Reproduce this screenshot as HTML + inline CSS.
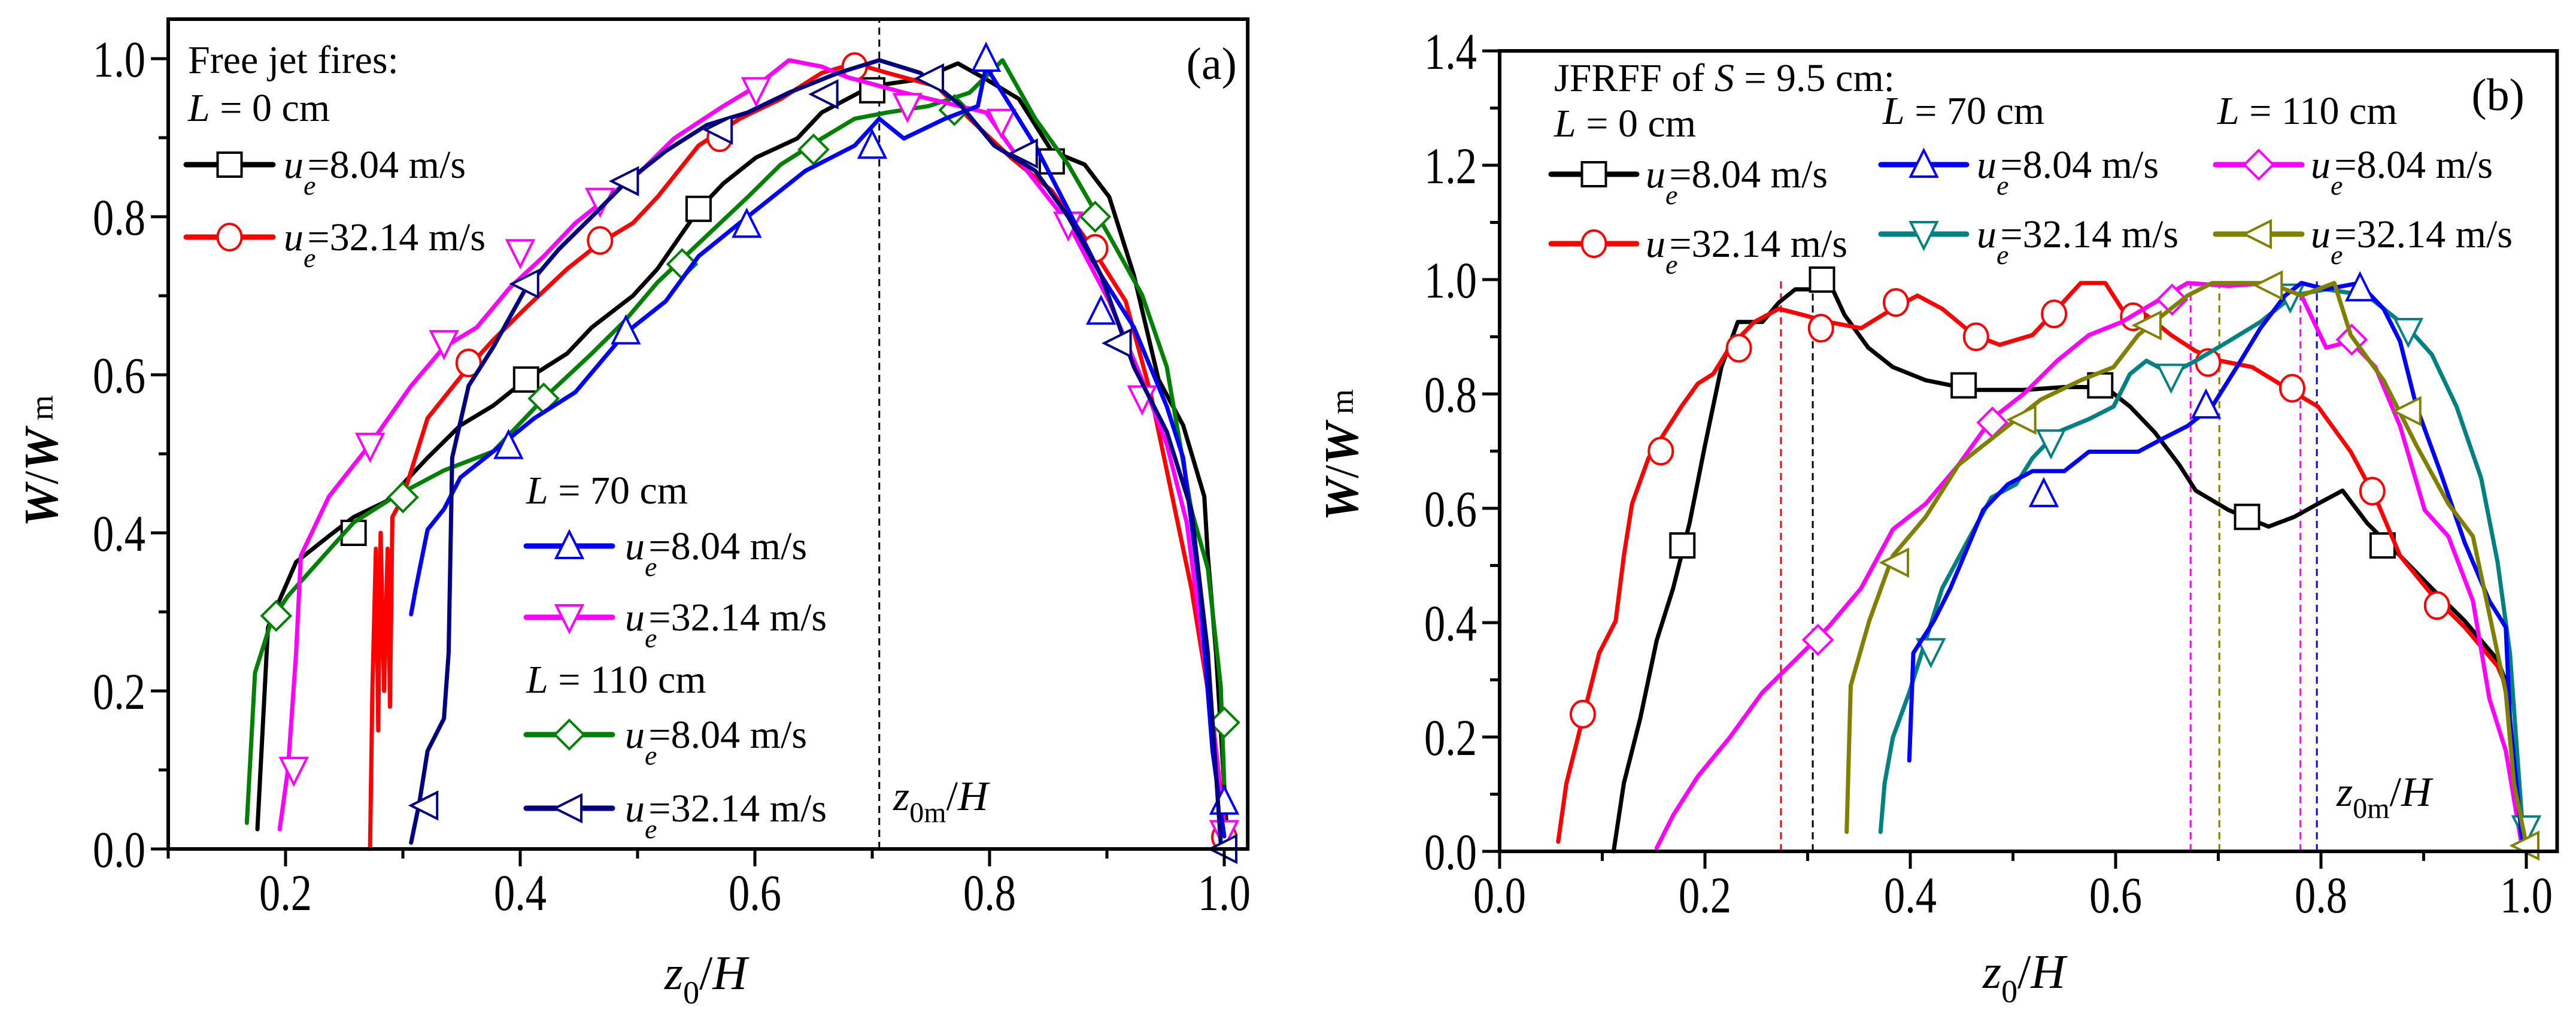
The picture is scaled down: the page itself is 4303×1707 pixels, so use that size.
<!DOCTYPE html>
<html><head><meta charset="utf-8"><style>
html,body{margin:0;padding:0;background:#fff;}
svg{display:block;font-family:"Liberation Serif","DejaVu Serif",serif;}
</style></head><body>
<svg id="chart" xmlns="http://www.w3.org/2000/svg" width="4303" height="1707" viewBox="0 0 4303 1707">
<rect x="0" y="0" width="4303" height="1707" fill="#fff"/>
<g id="pa"></g>
<g id="pb"></g>
</svg>
<script>
// ---------- Panel (a) data ----------
const aXTicks = [0.2,0.4,0.6,0.8,1.0];
const aXTickLabels = ["0.2","0.4","0.6","0.8","1.0"];
const aYTicks = [0,0.2,0.4,0.6,0.8,1.0];
const aYTickLabels = ["0.0","0.2","0.4","0.6","0.8","1.0"];
const aZ0m = 0.706;
const aL0u8 = [[0.176,0.025],[0.185,0.28],[0.192,0.305],[0.209,0.363],[0.237,0.396],[0.258,0.42],[0.286,0.44],[0.321,0.495],[0.349,0.536],[0.377,0.561],[0.405,0.594],[0.44,0.627],[0.461,0.66],[0.496,0.70],[0.517,0.734],[0.552,0.809],[0.573,0.842],[0.601,0.875],[0.636,0.899],[0.657,0.932],[0.699,0.965],[0.741,0.974],[0.773,0.994],[0.797,0.974],[0.825,0.949],[0.853,0.883],[0.881,0.866],[0.902,0.825],[0.923,0.726],[0.944,0.594],[0.965,0.536],[0.983,0.446],[0.986,0.371],[0.993,0.248],[1.0,0.08],[1.003,0.0]];
const aL0u8M = [[0.258,0.40],[0.405,0.594],[0.552,0.81],[0.70,0.96],[0.853,0.87]];
const aL0u32 = [[0.272,0.0],[0.274,0.2],[0.277,0.38],[0.279,0.15],[0.281,0.40],[0.284,0.2],[0.287,0.38],[0.289,0.18],[0.291,0.42],[0.30,0.445],[0.321,0.545],[0.356,0.61],[0.377,0.644],[0.405,0.685],[0.44,0.734],[0.468,0.767],[0.496,0.792],[0.517,0.825],[0.552,0.89],[0.587,0.924],[0.622,0.949],[0.657,0.982],[0.685,0.994],[0.713,0.982],[0.755,0.965],[0.783,0.924],[0.818,0.875],[0.853,0.833],[0.888,0.759],[0.916,0.693],[0.937,0.578],[0.951,0.479],[0.972,0.33],[0.99,0.165],[1.0,0.033]];
const aL0u32M = [[0.356,0.615],[0.468,0.77],[0.57,0.90],[0.685,0.99],[0.89,0.76],[1.0,0.015]];
const aL70u8 = [[0.307,0.297],[0.311,0.33],[0.321,0.404],[0.335,0.43],[0.349,0.47],[0.377,0.503],[0.412,0.545],[0.447,0.578],[0.489,0.652],[0.524,0.693],[0.552,0.75],[0.587,0.792],[0.615,0.825],[0.643,0.858],[0.685,0.89],[0.706,0.924],[0.727,0.899],[0.762,0.924],[0.79,0.94],[0.797,0.99],[0.818,0.94],[0.839,0.89],[0.867,0.809],[0.895,0.726],[0.923,0.66],[0.951,0.56],[0.965,0.495],[0.979,0.33],[0.99,0.124],[1.0,0.016]];
const aL70u8M = [[0.39,0.51],[0.49,0.655],[0.593,0.79],[0.70,0.89],[0.797,1.0],[0.895,0.68],[1.0,0.06]];
const aL70u32 = [[0.195,0.025],[0.202,0.1],[0.209,0.248],[0.213,0.371],[0.237,0.446],[0.272,0.512],[0.307,0.586],[0.335,0.635],[0.363,0.66],[0.391,0.71],[0.42,0.75],[0.447,0.792],[0.468,0.817],[0.503,0.858],[0.531,0.899],[0.573,0.94],[0.601,0.965],[0.629,0.998],[0.657,0.99],[0.678,0.977],[0.727,0.957],[0.797,0.932],[0.832,0.858],[0.867,0.792],[0.902,0.693],[0.93,0.594],[0.951,0.512],[0.968,0.413],[0.979,0.289],[0.993,0.124],[1.0,0.02]];
const aL70u32M = [[0.207,0.10],[0.272,0.51],[0.335,0.64],[0.40,0.755],[0.468,0.82],[0.601,0.96],[0.73,0.94],[0.81,0.92],[0.867,0.79],[0.93,0.57],[1.0,0.02]];
const aL110u8 = [[0.167,0.033],[0.174,0.223],[0.188,0.289],[0.202,0.32],[0.223,0.355],[0.258,0.413],[0.293,0.446],[0.335,0.479],[0.377,0.503],[0.42,0.57],[0.461,0.627],[0.489,0.668],[0.517,0.717],[0.559,0.776],[0.594,0.825],[0.622,0.866],[0.657,0.899],[0.685,0.924],[0.713,0.932],[0.748,0.94],[0.783,0.957],[0.811,0.998],[0.839,0.924],[0.867,0.866],[0.902,0.776],[0.93,0.701],[0.951,0.61],[0.972,0.429],[0.986,0.355],[0.997,0.206],[1.0,0.083]];
const aL110u8M = [[0.192,0.295],[0.30,0.445],[0.42,0.57],[0.538,0.74],[0.65,0.885],[0.77,0.935],[0.89,0.80],[1.0,0.16]];
const aL110u32 = [[0.307,0.008],[0.314,0.058],[0.321,0.124],[0.335,0.165],[0.339,0.248],[0.342,0.495],[0.356,0.586],[0.377,0.635],[0.405,0.71],[0.433,0.759],[0.461,0.80],[0.489,0.842],[0.524,0.883],[0.559,0.916],[0.594,0.932],[0.629,0.957],[0.671,0.982],[0.706,0.998],[0.741,0.982],[0.776,0.94],[0.804,0.89],[0.839,0.858],[0.867,0.80],[0.895,0.726],[0.923,0.61],[0.951,0.528],[0.972,0.429],[0.986,0.248],[0.997,0.008]];
const aL110u32M = [[0.319,0.055],[0.405,0.715],[0.49,0.845],[0.57,0.91],[0.66,0.955],[0.75,0.975],[0.83,0.88],[0.91,0.64],[1.0,0.0]];

// ---------- Panel (b) data ----------
const bXTicks = [0,0.2,0.4,0.6,0.8,1.0];
const bXTickLabels = ["0.0","0.2","0.4","0.6","0.8","1.0"];
const bYTicks = [0,0.2,0.4,0.6,0.8,1.0,1.2,1.4];
const bYTickLabels = ["0.0","0.2","0.4","0.6","0.8","1.0","1.2","1.4"];
const bZ0mX = [0.274,0.305,0.673,0.701,0.78,0.796];
const bZ0mColors = ["#ff0000","#000000","#ff00ff","#808000","#ff00ff","#0000ff"];
const bL0u8 = [[0.111,0.0],[0.121,0.119],[0.137,0.233],[0.153,0.369],[0.169,0.46],[0.185,0.574],[0.2,0.71],[0.216,0.847],[0.232,0.926],[0.256,0.926],[0.272,0.96],[0.288,0.983],[0.304,0.983],[0.32,1.0],[0.336,0.938],[0.359,0.881],[0.383,0.847],[0.415,0.824],[0.462,0.807],[0.511,0.807],[0.55,0.812],[0.59,0.812],[0.614,0.778],[0.638,0.733],[0.662,0.676],[0.678,0.631],[0.71,0.597],[0.749,0.568],[0.774,0.585],[0.797,0.608],[0.821,0.631],[0.845,0.574],[0.877,0.517],[0.908,0.46],[0.94,0.403],[0.972,0.335],[0.984,0.278]];
const bL0u8M = [[0.178,0.535],[0.314,1.0],[0.452,0.815],[0.585,0.815],[0.728,0.585],[0.86,0.535]];
const bL0u32 = [[0.057,0.017],[0.065,0.119],[0.081,0.233],[0.097,0.347],[0.113,0.403],[0.121,0.517],[0.129,0.608],[0.145,0.688],[0.161,0.733],[0.177,0.778],[0.193,0.818],[0.208,0.835],[0.224,0.881],[0.248,0.926],[0.272,0.949],[0.296,0.938],[0.32,0.926],[0.352,0.915],[0.383,0.949],[0.407,0.972],[0.431,0.949],[0.462,0.903],[0.487,0.886],[0.519,0.903],[0.543,0.949],[0.566,0.994],[0.59,0.994],[0.606,0.949],[0.63,0.938],[0.654,0.903],[0.678,0.875],[0.702,0.858],[0.733,0.847],[0.765,0.812],[0.797,0.778],[0.829,0.699],[0.853,0.619],[0.877,0.517],[0.908,0.449],[0.94,0.392],[0.972,0.324],[0.988,0.256]];
const bL0u32M = [[0.081,0.24],[0.157,0.70],[0.233,0.88],[0.313,0.915],[0.386,0.96],[0.464,0.90],[0.54,0.94],[0.617,0.935],[0.69,0.855],[0.772,0.81],[0.85,0.63],[0.913,0.43]];
const bL70u8 = [[0.399,0.159],[0.403,0.347],[0.423,0.403],[0.439,0.46],[0.455,0.528],[0.471,0.597],[0.495,0.642],[0.519,0.665],[0.55,0.665],[0.574,0.699],[0.622,0.699],[0.646,0.722],[0.67,0.744],[0.694,0.778],[0.718,0.847],[0.741,0.915],[0.765,0.972],[0.781,0.994],[0.805,0.983],[0.837,0.994],[0.861,0.949],[0.877,0.892],[0.893,0.778],[0.916,0.665],[0.94,0.54],[0.964,0.438],[0.98,0.392],[0.984,0.233],[0.996,0.017]];
const bL70u8M = [[0.53,0.625],[0.688,0.78],[0.838,0.985]];
const bL70u32 = [[0.371,0.034],[0.375,0.119],[0.383,0.199],[0.399,0.278],[0.415,0.369],[0.431,0.46],[0.455,0.54],[0.479,0.619],[0.503,0.642],[0.519,0.688],[0.543,0.733],[0.574,0.756],[0.598,0.778],[0.614,0.835],[0.63,0.858],[0.654,0.835],[0.678,0.858],[0.71,0.892],[0.741,0.926],[0.773,0.972],[0.805,0.983],[0.845,0.972],[0.885,0.915],[0.908,0.869],[0.932,0.778],[0.956,0.653],[0.972,0.506],[0.984,0.347],[0.996,0.051]];
const bL70u32M = [[0.42,0.35],[0.537,0.715],[0.654,0.83],[0.77,0.97],[0.885,0.91],[1.0,0.04]];
const bL110u8 = [[0.153,0.006],[0.169,0.063],[0.193,0.131],[0.224,0.199],[0.256,0.278],[0.288,0.335],[0.32,0.392],[0.352,0.46],[0.383,0.563],[0.415,0.608],[0.447,0.676],[0.479,0.756],[0.511,0.801],[0.543,0.858],[0.574,0.903],[0.606,0.926],[0.638,0.96],[0.67,0.994],[0.71,0.989],[0.749,0.994],[0.781,0.972],[0.805,0.881],[0.829,0.892],[0.853,0.847],[0.877,0.744],[0.901,0.597],[0.924,0.551],[0.948,0.438],[0.964,0.267],[0.98,0.176],[0.996,0.006]];
const bL110u8M = [[0.31,0.37],[0.48,0.75],[0.655,0.965],[0.83,0.895]];
const bL110u32 = [[0.338,0.034],[0.342,0.29],[0.36,0.403],[0.383,0.517],[0.415,0.585],[0.447,0.676],[0.495,0.744],[0.527,0.79],[0.566,0.824],[0.598,0.847],[0.622,0.903],[0.646,0.938],[0.67,0.972],[0.694,0.994],[0.749,0.994],[0.781,0.972],[0.813,0.994],[0.829,0.903],[0.861,0.824],[0.893,0.71],[0.924,0.608],[0.948,0.551],[0.964,0.415],[0.98,0.278],[0.988,0.119],[1.0,0.011]];
const bL110u32M = [[0.386,0.505],[0.51,0.755],[0.632,0.92],[0.75,0.99],[0.885,0.77],[1.0,0.01]];

const NS = "http://www.w3.org/2000/svg";
function el(tag, attrs, parent){
  const e = document.createElementNS(NS, tag);
  for (const k in attrs) e.setAttribute(k, attrs[k]);
  if (parent) parent.appendChild(e);
  return e;
}
function marker(g, shape, cx, cy, color){
  const s = 20; let m;
  if (shape === 'square') m = el('rect',{x:cx-s,y:cy-s,width:2*s,height:2*s},g);
  else if (shape === 'circle') m = el('ellipse',{cx:cx,cy:cy,rx:s,ry:s+2},g);
  else if (shape === 'up') m = el('polygon',{points:`${cx},${cy-s-4} ${cx+s+2},${cy+s} ${cx-s-2},${cy+s}`},g);
  else if (shape === 'down') m = el('polygon',{points:`${cx},${cy+s+4} ${cx+s+2},${cy-s} ${cx-s-2},${cy-s}`},g);
  else if (shape === 'diamond') m = el('polygon',{points:`${cx},${cy-s-4} ${cx+s+4},${cy} ${cx},${cy+s+4} ${cx-s-4},${cy}`},g);
  else m = el('polygon',{points:`${cx-s-4},${cy} ${cx+s},${cy-s-2} ${cx+s},${cy+s+2}`},g);
  m.setAttribute('fill','#fff'); m.setAttribute('stroke',color); m.setAttribute('stroke-width','4');
  
  
  return m;
}
function ueText(g, x, y, val){
  const t = el('text',{x:x,y:y,'font-size':66},g);
  
  
  const a = el('tspan',{'font-style':'italic'},t); a.textContent='u';
  const b = el('tspan',{'font-style':'italic','font-size':46,dy:28},t); b.textContent='e';
  const c = el('tspan',{dy:-28,dx:-14},t); c.textContent='='+val+' m/s';
}
function legendRow(g, x1, x2, y, color, shape, tx, val){
  const lg = el('g',{},g);
  
  
  el('line',{x1:x1,y1:y,x2:x2,y2:y,stroke:color,'stroke-width':9,'stroke-linecap':'round'},lg);
  marker(lg, shape, (x1+x2)/2, y, color);
  ueText(lg, tx, y+22, val);
}
function plainText(g, x, y, size, html, name, anchor){
  const t = el('text',{x:x,y:y,'font-size':size,'text-anchor':anchor||'start'},g);
  t.innerHTML = html;
  
  
  return t;
}

function panel(g, cfg){
  const X = v => cfg.x0 + (v - cfg.xmin) * cfg.xs;
  const Y = v => cfg.y0 - (v - cfg.ymin) * cfg.ys;
  cfg.refs.forEach(r=>{
    const l = el('line',{x1:X(r.x),x2:X(r.x),y1:Y(0),y2:Y(r.top),stroke:r.color,'stroke-width':3,'stroke-dasharray':'12,8'},g);
    
    
  });
  cfg.series.forEach(s=>{
    const sg = el('g',{},g);
    
    
    const pts = s.data.map(p=>X(p[0]).toFixed(1)+','+Y(p[1]).toFixed(1)).join(' ');
    el('polyline',{points:pts,fill:'none',stroke:s.color,'stroke-width':7,'stroke-linejoin':'round','stroke-linecap':'round'},sg);
    s.marks.forEach(p=>marker(sg, s.shape, X(p[0]), Y(p[1]), s.color));
  });
  const L = X(cfg.xmin), R = X(cfg.xmax), T = Y(cfg.ymax), B = Y(cfg.ymin);
  const fr = el('rect',{x:L,y:T,width:R-L,height:B-T,fill:'none',stroke:'#000','stroke-width':6},g);
  
  
  const xa = el('g',{},g);
  
  
  cfg.xMinor.forEach(v=>el('line',{x1:X(v),x2:X(v),y1:B,y2:B+16,stroke:'#000','stroke-width':5},xa));
  cfg.xTicks.forEach((v,i)=>{
    el('line',{x1:X(v),x2:X(v),y1:B,y2:B+29,stroke:'#000','stroke-width':5},xa);
    const t = el('text',{x:X(v),y:B+102,'font-size':86,'text-anchor':'middle',textLength:88,lengthAdjust:'spacingAndGlyphs'},xa);
    t.textContent = cfg.xLabels[i];
    
    
  });
  const ya = el('g',{},g);
  
  
  cfg.yMinor.forEach(v=>el('line',{x1:L-16,x2:L,y1:Y(v),y2:Y(v),stroke:'#000','stroke-width':5},ya));
  cfg.yTicks.forEach((v,i)=>{
    el('line',{x1:L-29,x2:L,y1:Y(v),y2:Y(v),stroke:'#000','stroke-width':5},ya);
    const t = el('text',{x:L-38,y:Y(v)+30,'font-size':86,'text-anchor':'end',textLength:88,lengthAdjust:'spacingAndGlyphs'},ya);
    t.textContent = cfg.yLabels[i];
    
    
  });
  return {X,Y};
}

const pa = document.getElementById('pa');
panel(pa, {x0:281,xmin:0.1,xmax:1.02,xs:1960,y0:1418,ymin:0,ymax:1.05,ys:1320,
  xTicks:aXTicks,xLabels:aXTickLabels,xMinor:[0.1,0.3,0.5,0.7,0.9],
  yTicks:aYTicks,yLabels:aYTickLabels,yMinor:[0.1,0.3,0.5,0.7,0.9],
  refs:[{x:aZ0m,top:1.05,color:'#000'}],
  series:[
    {name:'series-L0-ue8', data:aL0u8, marks:aL0u8M, color:'#000000', shape:'square'},
    {name:'series-L0-ue32', data:aL0u32, marks:aL0u32M, color:'#ff0000', shape:'circle'},
    {name:'series-L110-ue8', data:aL110u8, marks:aL110u8M, color:'#008000', shape:'diamond'},
    {name:'series-L70-ue32', data:aL70u32, marks:aL70u32M, color:'#ff00ff', shape:'down'},
    {name:'series-L70-ue8', data:aL70u8, marks:aL70u8M, color:'#0000ff', shape:'up'},
    {name:'series-L110-ue32', data:aL110u32, marks:aL110u32M, color:'#000080', shape:'left'}
  ]});
plainText(pa, 314, 122, 66, 'Free jet fires:', 'legend-title');
plainText(pa, 314, 202, 66, '<tspan font-style="italic">L</tspan> = 0 cm', 'legend-group-L0');
legendRow(pa, 311, 456, 275, '#000000', 'square', 474, '8.04');
legendRow(pa, 311, 456, 396, '#ff0000', 'circle', 474, '32.14');
plainText(pa, 879, 841, 66, '<tspan font-style="italic">L</tspan> = 70 cm', 'legend-group-L70');
legendRow(pa, 879, 1023, 912, '#0000ff', 'up', 1044, '8.04');
legendRow(pa, 879, 1023, 1031, '#ff00ff', 'down', 1044, '32.14');
plainText(pa, 879, 1157, 66, '<tspan font-style="italic">L</tspan> = 110 cm', 'legend-group-L110');
legendRow(pa, 879, 1023, 1227, '#008000', 'diamond', 1044, '8.04');
legendRow(pa, 879, 1023, 1350, '#000080', 'left', 1044, '32.14');
plainText(pa, 2066, 132, 76, '(a)', 'panel-label', 'end');
plainText(pa, 1492, 1353, 70, '<tspan font-style="italic">z</tspan><tspan font-size="48" dy="20">0m</tspan><tspan dy="-20">/</tspan><tspan font-style="italic">H</tspan>', 'z0m-label');
plainText(pa, 1110, 1652, 80, '<tspan font-style="italic">z</tspan><tspan font-size="54" dy="24">0</tspan><tspan dy="-24">/</tspan><tspan font-style="italic">H</tspan>', 'x-axis-title');
const ya1 = plainText(pa, 0, 0, 80, '<tspan font-style="italic" font-weight="bold">W</tspan>/<tspan font-style="italic" font-weight="bold">W</tspan><tspan font-size="54" dy="-8"> m</tspan>', 'y-axis-title', 'middle');
ya1.setAttribute('transform','translate(96,770) rotate(-90)');

const pb = document.getElementById('pb');
panel(pb, {x0:2505,xmin:0,xmax:1.03,xs:1715,y0:1422,ymin:0,ymax:1.4,ys:955,
  xTicks:bXTicks,xLabels:bXTickLabels,xMinor:[0.1,0.3,0.5,0.7,0.9],
  yTicks:bYTicks,yLabels:bYTickLabels,yMinor:[0.1,0.3,0.5,0.7,0.9,1.1,1.3],
  refs:bZ0mX.map((x,i)=>({x:x,top:1.0,color:bZ0mColors[i]})),
  series:[
    {name:'series-L0-ue8', data:bL0u8, marks:bL0u8M, color:'#000000', shape:'square'},
    {name:'series-L0-ue32', data:bL0u32, marks:bL0u32M, color:'#ff0000', shape:'circle'},
    {name:'series-L110-ue8', data:bL110u8, marks:bL110u8M, color:'#ff00ff', shape:'diamond'},
    {name:'series-L70-ue32', data:bL70u32, marks:bL70u32M, color:'#008080', shape:'down'},
    {name:'series-L70-ue8', data:bL70u8, marks:bL70u8M, color:'#0000ff', shape:'up'},
    {name:'series-L110-ue32', data:bL110u32, marks:bL110u32M, color:'#808000', shape:'left'}
  ]});
plainText(pb, 2596, 152, 66, 'JFRFF of <tspan font-style="italic">S</tspan> = 9.5 cm:', 'legend-title');
plainText(pb, 2596, 228, 66, '<tspan font-style="italic">L</tspan> = 0 cm', 'legend-group-L0');
legendRow(pb, 2591, 2734, 291, '#000000', 'square', 2749, '8.04');
legendRow(pb, 2591, 2734, 407, '#ff0000', 'circle', 2749, '32.14');
plainText(pb, 3145, 207, 66, '<tspan font-style="italic">L</tspan> = 70 cm', 'legend-group-L70');
legendRow(pb, 3142, 3285, 275, '#0000ff', 'up', 3302, '8.04');
legendRow(pb, 3142, 3285, 391, '#008080', 'down', 3302, '32.14');
plainText(pb, 3704, 207, 66, '<tspan font-style="italic">L</tspan> = 110 cm', 'legend-group-L110');
legendRow(pb, 3701, 3845, 275, '#ff00ff', 'diamond', 3860, '8.04');
legendRow(pb, 3701, 3845, 391, '#808000', 'left', 3860, '32.14');
plainText(pb, 4217, 184, 76, '(b)', 'panel-label', 'end');
plainText(pb, 3903, 1346, 70, '<tspan font-style="italic">z</tspan><tspan font-size="48" dy="20">0m</tspan><tspan dy="-20">/</tspan><tspan font-style="italic">H</tspan>', 'z0m-label');
plainText(pb, 3312, 1650, 80, '<tspan font-style="italic">z</tspan><tspan font-size="54" dy="24">0</tspan><tspan dy="-24">/</tspan><tspan font-style="italic">H</tspan>', 'x-axis-title');
const yb1 = plainText(pb, 0, 0, 80, '<tspan font-style="italic" font-weight="bold">W</tspan>/<tspan font-style="italic" font-weight="bold">W</tspan><tspan font-size="54" dy="-8"> m</tspan>', 'y-axis-title', 'middle');
yb1.setAttribute('transform','translate(2268,760) rotate(-90)');
</script>
</body></html>
